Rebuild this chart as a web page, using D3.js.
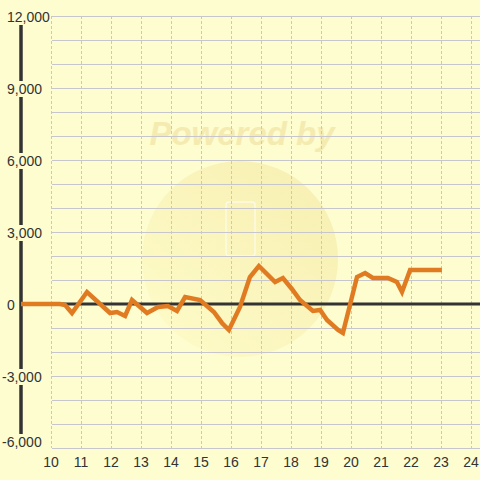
<!DOCTYPE html>
<html>
<head>
<meta charset="utf-8">
<script src="https://cdn.jsdelivr.net/npm/d3@7"></script>
<style>
  body { margin: 0; background: #fdfdd0; }
  svg { display: block; font-family: "Liberation Sans", Arial, sans-serif; }
</style>
</head>
<body>
<div id="chart"></div>
<script>
// values (x in hours, y in units)
const times = [9, 10.3, 10.47, 10.7, 11.2, 11.97, 12.2, 12.47, 12.7, 13.2, 13.57, 13.9, 14.2, 14.47,
  14.97, 15.43, 15.7, 15.93, 16.3, 16.63, 16.93, 17.47, 17.73, 18.03, 18.3, 18.73, 18.97, 19.2,
  19.57, 19.73, 20.2, 20.47, 20.73, 21.23, 21.53, 21.7, 21.97, 23.03];
const values = [0, 0, -40, -375, 500, -375, -333, -500, 167, -375, -125, -83, -290, 290,
  167, -333, -790, -1083, -125, 1125, 1583, 917, 1083, 625, 167, -290, -250, -667,
  -1083, -1208, 1125, 1290, 1083, 1083, 917, 500, 1417, 1417];
const xTicks = [10, 11, 12, 13, 14, 15, 16, 17, 18, 19, 20, 21, 22, 23, 24];
const yLabels = [12000, 9000, 6000, 3000, 0, -3000, -6000];
const yGrid = [12000, 11000, 10000, 9000, 8000, 7000, 6000, 5000, 4000, 3000, 2000, 1000,
  -1000, -2000, -3000, -4000, -5000, -6000];

const W = 480, H = 480, bg = "#fdfdd0";
const x = d3.scaleLinear().domain([9, 24]).range([21, 471]);
const y = d3.scaleLinear().domain([-6000, 12000]).range([448, 16]);

const svg = d3.select("#chart").append("svg")
  .attr("width", W).attr("height", H);

svg.append("rect").attr("width", W).attr("height", H).attr("fill", bg);

// faint watermark
const defs = svg.append("defs");
const grad = defs.append("linearGradient").attr("id", "wm")
  .attr("x1", "0%").attr("y1", "100%").attr("x2", "100%").attr("y2", "0%");
grad.append("stop").attr("offset", "0%").attr("stop-color", "#fffbc4");
grad.append("stop").attr("offset", "100%").attr("stop-color", "#f3e59c");
svg.append("circle").attr("cx", 240).attr("cy", 259).attr("r", 98)
  .attr("fill", "url(#wm)").attr("opacity", 0.6);
svg.append("rect").attr("x", 226).attr("y", 202).attr("width", 29).attr("height", 54).attr("rx", 3)
  .attr("fill", "none").attr("stroke", "#ffffff").attr("stroke-width", 1.5).attr("opacity", 0.6);
svg.append("text").attr("x", 242).attr("y", 145)
  .attr("text-anchor", "middle")
  .attr("font-size", 33).attr("font-weight", "bold").attr("font-style", "italic")
  .attr("fill", "#f3e6a6").attr("opacity", 0.75)
  .text("Powered by");

// grid
svg.append("g").selectAll("line").data(yGrid).join("line")
  .attr("x1", 52).attr("x2", W)
  .attr("y1", d => Math.round(y(d)) + 0.5).attr("y2", d => Math.round(y(d)) + 0.5)
  .attr("stroke", "#c6c6cc").attr("stroke-width", 1);

svg.append("g").selectAll("line").data(xTicks).join("line")
  .attr("x1", d => x(d) + 0.5).attr("x2", d => x(d) + 0.5)
  .attr("y1", y(12000)).attr("y2", y(-6000))
  .attr("stroke", "#c8c8cc").attr("stroke-width", 1)
  .attr("stroke-dasharray", "3,2");

// axes
svg.append("line").attr("x1", x(9)).attr("x2", W)
  .attr("y1", y(0)).attr("y2", y(0))
  .attr("stroke", "#333").attr("stroke-width", 3);
svg.append("line").attr("x1", x(9)).attr("x2", x(9))
  .attr("y1", 24).attr("y2", 446)
  .attr("stroke", "#333").attr("stroke-width", 3.5);

// y labels with background
const fmt = d3.format(",");
const yl = svg.append("g").selectAll("g").data(yLabels).join("g");
yl.append("text")
  .attr("x", d => d < 0 ? 2 : 7)
  .attr("y", d => Math.min(y(d), 441) + 6)
  .attr("font-size", 14).attr("fill", "#333")
  .text(d => fmt(d).replace("\u2212", "-"))
  .each(function() {
    const b = this.getBBox();
    d3.select(this.parentNode).insert("rect", "text")
      .attr("x", b.x).attr("y", b.y).attr("width", b.width).attr("height", b.height)
      .attr("fill", bg);
  });

// x labels
svg.append("g").selectAll("text").data(xTicks).join("text")
  .attr("x", d => x(d)).attr("y", 467)
  .attr("text-anchor", "middle")
  .attr("font-size", 14).attr("fill", "#333")
  .text(d => d);

// series
const line = d3.line().x((d, i) => x(times[i])).y(d => y(d));
svg.append("path").datum(values)
  .attr("d", line)
  .attr("fill", "none")
  .attr("stroke", "#e07b22").attr("stroke-width", 4.5)
  .attr("stroke-linejoin", "miter");
</script>
</body>
</html>
